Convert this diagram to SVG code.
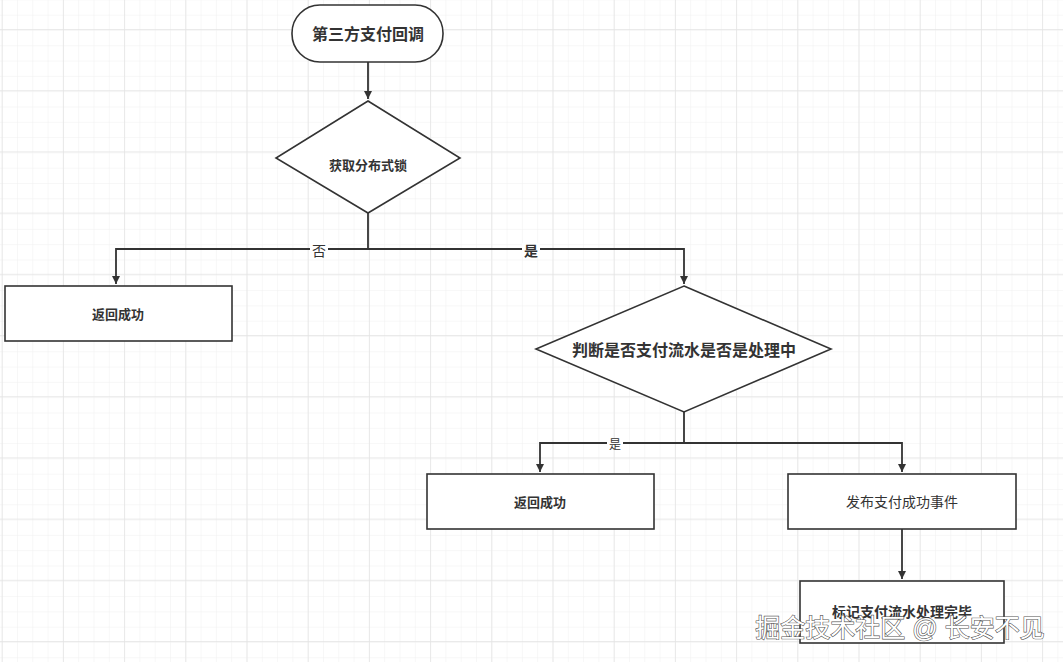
<svg xmlns="http://www.w3.org/2000/svg" width="1063" height="662" viewBox="0 0 1063 662">
<defs>
<pattern id="minor" width="15.3" height="15.3" patternUnits="userSpaceOnUse" x="1.7" y="-0.6">
<path d="M0 0H15.3M0 0V15.3" fill="none" stroke="#efefef" stroke-width="1"/>
</pattern>
<pattern id="major" width="61.2" height="61.2" patternUnits="userSpaceOnUse" x="1.7" y="29">
<path d="M0 0H61.2M0 0V61.2" fill="none" stroke="#e4e4e4" stroke-width="1.5"/>
</pattern>
<marker id="arr" markerWidth="10" markerHeight="10" refX="9" refY="5" orient="auto" markerUnits="userSpaceOnUse">
<path d="M1 1L9 5L1 9Z" fill="#333"/>
</marker>
</defs>
<style>
.shape{fill:#fff;stroke:#333;stroke-width:1.6}
.edge{fill:none;stroke:#333;stroke-width:1.8}
text{font-family:"Liberation Sans","Noto Sans CJK SC",sans-serif;fill:#333;text-anchor:middle;dominant-baseline:central}
.b{font-weight:bold}
.lbl{font-size:14px}
</style>
<rect width="1063" height="662" fill="#fff"/>
<rect width="1063" height="662" fill="url(#minor)"/>
<rect width="1063" height="662" fill="url(#major)"/>
<g id="connectors">
<path class="edge" d="M368 62V99" marker-end="url(#arr)"/>
<path class="edge" d="M368 213V249H116V284" marker-end="url(#arr)"/>
<path class="edge" d="M368 249H684V284" marker-end="url(#arr)"/>
<path class="edge" d="M684 412V443H540V472" marker-end="url(#arr)"/>
<path class="edge" d="M684 443H902V472" marker-end="url(#arr)"/>
<path class="edge" d="M902 529V579" marker-end="url(#arr)"/>
<rect x="310" y="243" width="18" height="14" fill="#fff"/>
<text class="lbl" x="319" y="251">否</text>
<rect x="522" y="243" width="18" height="14" fill="#fff"/>
<text class="lbl b" x="531" y="251">是</text>
<rect x="607" y="438" width="16" height="12" fill="#fff"/>
<text x="615" y="445" style="font-size:12px">是</text>
</g>
<g id="start">
<rect class="shape" x="292" y="5" width="151" height="57" rx="28"/>
<text class="b" x="368" y="34" style="font-size:16px">第三方支付回调</text>
</g>
<g id="lock">
<path class="shape" d="M368 101L460 158L368 213L276 158Z"/>
<text class="b" x="368" y="165" style="font-size:13px">获取分布式锁</text>
</g>
<g id="ret1">
<rect class="shape" x="5" y="286" width="227" height="55"/>
<text class="b" x="118" y="314" style="font-size:13px">返回成功</text>
</g>
<g id="check">
<path class="shape" d="M684 286L831 349L684 412L536 349Z"/>
<text class="b" x="684" y="350" style="font-size:16px">判断是否支付流水是否是处理中</text>
</g>
<g id="ret2">
<rect class="shape" x="427" y="474" width="227" height="55"/>
<text class="b" x="540" y="502" style="font-size:13px">返回成功</text>
</g>
<g id="publish">
<rect class="shape" x="788" y="474" width="228" height="55"/>
<text x="902" y="502" style="font-size:14px">发布支付成功事件</text>
</g>
<g id="mark">
<rect class="shape" x="800" y="581" width="204" height="62"/>
<text class="b" x="902" y="612" style="font-size:14px">标记支付流水处理完毕</text>
</g>
<text x="900" y="628" style="font-size:25px;fill:#fff;stroke:#555;stroke-width:1.2;paint-order:stroke">掘金技术社区 @ 长安不见</text>
</svg>
